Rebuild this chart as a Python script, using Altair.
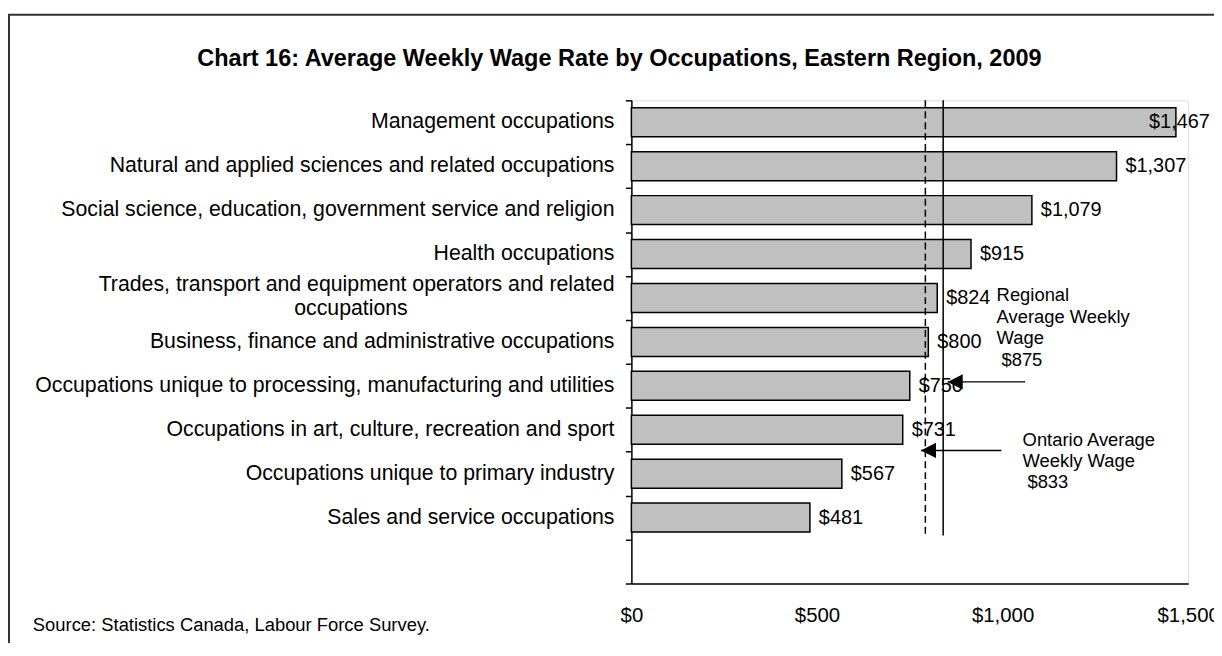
import altair as alt
import pandas as pd

# ---------------- data ----------------
categories = [
    "Management occupations",
    "Natural and applied sciences and related occupations",
    "Social science, education, government service and religion",
    "Health occupations",
    "Trades, transport and equipment operators and related\noccupations",
    "Business, finance and administrative occupations",
    "Occupations unique to processing, manufacturing and utilities",
    "Occupations in art, culture, recreation and sport",
    "Occupations unique to primary industry",
    "Sales and service occupations",
]
wages = [1467, 1307, 1079, 915, 824, 800, 750, 731, 567, 481]
x_ticks = [0, 500, 1000, 1500]

# reference lines as drawn in the picture (dashed, solid)
ref_line_values = [792, 840]
ref_line_styles = ["dashed", "solid"]

regional_note = ["Regional", "Average Weekly", "Wage", "$875"]
ontario_note = ["Ontario Average", "Weekly Wage", "$833"]

title_text = "Chart 16: Average Weekly Wage Rate by Occupations, Eastern Region, 2009"
source_text = "Source:  Statistics Canada, Labour Force Survey."

FONT = "Liberation Sans, Arial, Helvetica, sans-serif"
N_SLOTS = len(categories) + 1  # one empty slot at the bottom, as in the original

# ---------------- tables ----------------
bars = pd.DataFrame({
    "cat": categories,
    "wage": wages,
    "row": range(len(categories)),
})
bars["y0"] = bars["row"] + 0.17
bars["y1"] = bars["row"] + 0.83
bars["mid"] = bars["row"] + 0.5
bars["zero"] = 0
bars["label"] = ["$" + f"{v:,}" for v in wages]

lab_rows = []
for i, c in enumerate(categories):
    parts = c.split("\n")
    if len(parts) == 1:
        lab_rows.append({"text": c, "mid": i + 0.5, "kind": "single"})
    else:
        lab_rows.append({"text": parts[0], "mid": i + 0.5, "kind": "first"})
        for p in parts[1:]:
            lab_rows.append({"text": p, "mid": i + 0.5, "kind": "cont"})
labels = pd.DataFrame(lab_rows)

lines = pd.DataFrame({"x": ref_line_values, "style": ref_line_styles,
                      "top": 0.0, "bottom": 9.91})

# annotation anchors (data units: dollars, slot rows)
reg_x = [984, 984, 984, 997]
reg_y = [4.44, 4.93, 5.41, 5.91]
ont_x = [1054, 1054, 1067]
ont_y = [7.74, 8.21, 8.69]
notes = pd.DataFrame({
    "text": regional_note + ontario_note,
    "x": reg_x + ont_x,
    "y": reg_y + ont_y,
})
arrows = pd.DataFrame({
    "tip": [852, 780],
    "tail": [1061, 997],
    "y": [6.41, 7.97],
})

# ---------------- scales / axes ----------------
xscale = alt.Scale(domain=[0, 1500], nice=False, zero=True)
yscale = alt.Scale(domain=[0, N_SLOTS], reverse=True, nice=False, zero=False)
xaxis = alt.Axis(values=x_ticks, format="$,.0f", title=None, grid=False,
                 ticks=False, tickSize=0, labelFlush=False, labelOverlap=False,
                 labelFont=FONT, labelFontSize=20.5, labelColor="black",
                 labelPadding=22, domainColor="black", domainWidth=1.5)
yaxis = alt.Axis(values=list(range(N_SLOTS + 1)), labels=False, title=None,
                 grid=False, ticks=True, tickSize=6, tickColor="black",
                 tickWidth=1.5, domainColor="black", domainWidth=1.5)


def X(field, **kw):
    return alt.X(field, scale=xscale, axis=xaxis, **kw)


def Y(field, **kw):
    return alt.Y(field, scale=yscale, axis=yaxis, **kw)


# ---------------- layers ----------------
bar_layer = alt.Chart(bars).mark_rect(fill="#c0c0c0", stroke="black",
                                      strokeWidth=1.5).encode(
    x=X("zero:Q"), x2="wage:Q", y=Y("y0:Q"), y2="y1:Q")

val_labels = alt.Chart(bars).transform_filter("datum.wage < 1400").mark_text(
    align="left", baseline="middle", dx=9, font=FONT, fontSize=20,
    color="black").encode(x=X("wage:Q"), y=Y("mid:Q"), text="label:N")

val_labels_edge = alt.Chart(bars).transform_filter("datum.wage >= 1400").mark_text(
    align="left", baseline="middle", dx=-27, font=FONT, fontSize=20,
    color="black").encode(x=X("wage:Q"), y=Y("mid:Q"), text="label:N")

cat_single = alt.Chart(labels).transform_filter("datum.kind == 'single'").mark_text(
    align="right", baseline="middle", font=FONT, fontSize=21.4, color="black").encode(
    x=alt.value(-17), y=Y("mid:Q"), text="text:N")

cat_first = alt.Chart(labels).transform_filter("datum.kind == 'first'").mark_text(
    align="right", baseline="middle", dy=-13, font=FONT, fontSize=21.4,
    color="black").encode(x=alt.value(-17), y=Y("mid:Q"), text="text:N")

cat_cont = alt.Chart(labels).transform_filter("datum.kind == 'cont'").mark_text(
    align="center", baseline="middle", dy=11, font=FONT, fontSize=21.4,
    color="black").encode(x=alt.value(-282), y=Y("mid:Q"), text="text:N")

line_dashed = alt.Chart(lines).transform_filter("datum.style == 'dashed'").mark_rule(
    color="black", strokeWidth=1.5, strokeDash=[7, 4]).encode(
    x=X("x:Q"), y=Y("top:Q"), y2="bottom:Q")

line_solid = alt.Chart(lines).transform_filter("datum.style == 'solid'").mark_rule(
    color="black", strokeWidth=1.5).encode(
    x=X("x:Q"), y=Y("top:Q"), y2="bottom:Q")

note_layer = alt.Chart(notes).mark_text(
    align="left", baseline="middle", font=FONT, fontSize=18.5, color="black").encode(
    x=X("x:Q"), y=Y("y:Q"), text="text:N")

arrow_shaft = alt.Chart(arrows).mark_rule(color="black", strokeWidth=1.5).encode(
    x=X("tip:Q"), x2="tail:Q", y=Y("y:Q"))

arrow_head = alt.Chart(arrows).mark_point(
    shape="M0,0L2,-1L2,1Z", filled=True, color="black", opacity=1,
    size=230).encode(x=X("tip:Q"), y=Y("y:Q"))

frame = alt.Chart(pd.DataFrame({"k": [0]})).mark_rect(
    fillOpacity=0, stroke="#333333", strokeWidth=2).encode(
    x=alt.value(-626), x2=alt.value(640), y=alt.value(-86), y2=alt.value(600))

title = alt.Chart(pd.DataFrame({"t": [title_text]})).mark_text(
    align="center", baseline="alphabetic", font=FONT, fontSize=23.6,
    fontWeight="bold", color="black").encode(
    x=alt.value(-12), y=alt.value(-35), text="t:N")

source = alt.Chart(pd.DataFrame({"t": [source_text]})).mark_text(
    align="left", baseline="middle", font=FONT, fontSize=18.5, color="black").encode(
    x=alt.value(-602), y=alt.value(528), text="t:N")

chart = alt.layer(
    frame, bar_layer, line_dashed, line_solid, val_labels, val_labels_edge,
    cat_single, cat_first, cat_cont, note_layer, arrow_shaft, arrow_head,
    title, source,
).properties(
    width=560, height=486,
    padding={"left": 627, "top": 91, "right": 26, "bottom": 58},
    autosize=alt.AutoSizeParams(type="none"),
).configure_view(stroke="black", strokeWidth=1.5).configure(background="white")

chart.save("out.html", embed_options={"renderer": "svg", "actions": False})
